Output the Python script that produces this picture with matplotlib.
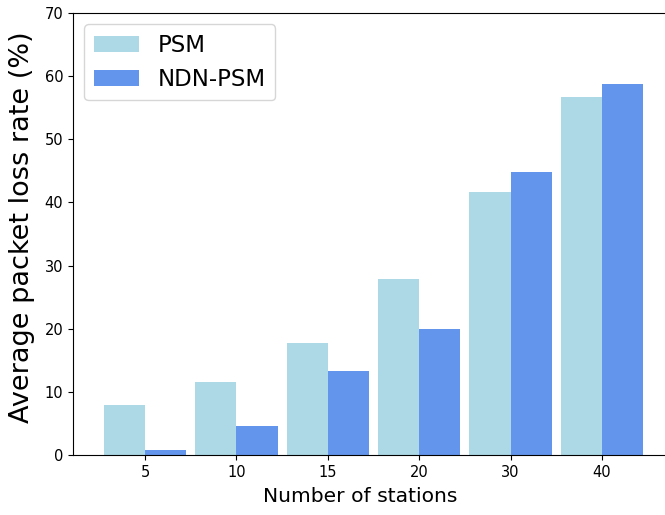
import numpy as np
import matplotlib
matplotlib.use('Agg')
import matplotlib.pyplot as plt

# Data
stations = ['5', '10', '15', '20', '30', '40']
psm = [7.9, 11.6, 17.7, 27.9, 41.7, 56.7]
ndn_psm = [0.8, 4.6, 13.3, 20.0, 44.8, 58.8]

x = np.arange(len(stations))
width = 0.45

fig = plt.figure(figsize=(6.65, 5.15), dpi=100)
# right edge sits just past the figure, as in the cropped original
ax = fig.add_axes([73/665, 60/515, 601/665, 442/515])

ax.bar(x - width/2, psm, width, color='lightblue', label='PSM')
ax.bar(x + width/2, ndn_psm, width, color='cornflowerblue', label='NDN-PSM')

ax.set_xticks(x)
ax.set_xticklabels(stations)
ax.set_xlim(-0.79, 5.79)
ax.set_ylim(0, 70)
ax.spines['right'].set_visible(False)
ax.tick_params(labelsize=10.5)
ax.set_xlabel('Number of stations', fontsize=14.6)
ax.set_ylabel('Average packet loss rate (%)', fontsize=19.5)
ax.xaxis.set_label_coords(0.478, -0.072)
ax.yaxis.set_label_coords(-0.063, 0.515)
ax.legend(fontsize=16.5, loc='upper left', borderaxespad=0.5)

plt.savefig('out.png', dpi=100)
